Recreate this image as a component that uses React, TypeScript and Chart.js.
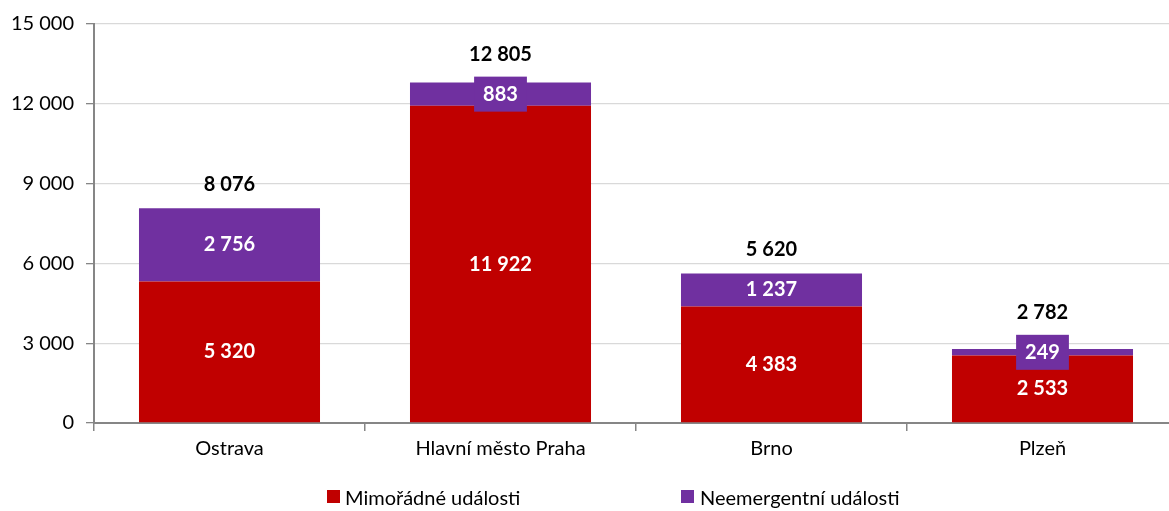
import React, { useEffect, useRef } from "react";
import { Chart, registerables } from "chart.js";

Chart.register(...registerables);

const categories = ["Ostrava", "Hlavní město Praha", "Brno", "Plzeň"];
const mimoradne = [5320, 11922, 4383, 2533];
const neemergentni = [2756, 883, 1237, 249];
const seriesNames = ["Mimořádné události", "Neemergentní události"];
const yMin = 0;
const yMax = 15000;
const yStep = 3000;

const RED = "#C00000";
const PURPLE = "#7030A0";
const FONT = "Lato, 'Open Sans', sans-serif";

const fmt = (n: number) => String(n).replace(/\B(?=(\d{3})+(?!\d))/g, " ");

const labelPlugin = {
  id: "barLabels",
  afterDatasetsDraw(chart: any) {
    const ctx = chart.ctx;
    const m0 = chart.getDatasetMeta(0);
    const m1 = chart.getDatasetMeta(1);
    ctx.save();
    ctx.font = `bold 20px ${FONT}`;
    ctx.textAlign = "center";
    ctx.textBaseline = "middle";
    for (let i = 0; i < categories.length; i++) {
      const b0 = m0.data[i];
      const b1 = m1.data[i];
      ctx.fillStyle = "#ffffff";
      ctx.fillText(fmt(mimoradne[i]), b0.x, (b0.y + b0.base) / 2);
      const h = Math.abs(b1.base - b1.y);
      const cy = (b1.y + b1.base) / 2;
      const txt = fmt(neemergentni[i]);
      const total = fmt(mimoradne[i] + neemergentni[i]);
      if (h < 30) {
        const w = ctx.measureText(txt).width + 18;
        const bh = 35;
        const boxTop = cy - bh / 2;
        ctx.fillStyle = PURPLE;
        ctx.fillRect(b1.x - w / 2, boxTop, w, bh);
        ctx.fillStyle = "#ffffff";
        ctx.fillText(txt, b1.x, cy);
        ctx.fillStyle = "#000000";
        ctx.fillText(total, b1.x, Math.min(b1.y, boxTop) - 22);
      } else {
        ctx.fillStyle = "#ffffff";
        ctx.fillText(txt, b1.x, cy);
        ctx.fillStyle = "#000000";
        ctx.fillText(total, b1.x, b1.y - 24);
      }
    }
    ctx.restore();
  },
};

export default function App() {
  const ref = useRef<HTMLCanvasElement | null>(null);
  useEffect(() => {
    if (!ref.current) return;
    const chart = new Chart(ref.current, {
      type: "bar",
      data: {
        labels: categories,
        datasets: [
          { label: seriesNames[0], data: mimoradne, backgroundColor: RED, borderWidth: 0 },
          { label: seriesNames[1], data: neemergentni, backgroundColor: PURPLE, borderWidth: 0 },
        ],
      },
      options: {
        responsive: false,
        animation: false,
        devicePixelRatio: 1,
        layout: { padding: { top: 24, right: 2, left: 0, bottom: 0 } },
        plugins: { legend: { display: false }, tooltip: { enabled: false } },
        datasets: { bar: { categoryPercentage: 1, barPercentage: 0.668 } },
        scales: {
          x: {
            stacked: true,
            grid: {
              offset: true,
              drawOnChartArea: false,
              tickLength: 8,
              color: "#868686",
              lineWidth: 1.5,
            },
            border: { display: true, color: "#868686", width: 2 },
            ticks: { color: "#000", font: { family: FONT, size: 20 }, padding: 6 },
            afterFit: (s: any) => {
              s.height = 88;
            },
          },
          y: {
            stacked: true,
            min: yMin,
            max: yMax,
            grid: { color: "#d9d9d9", tickLength: 8, tickColor: "#868686", lineWidth: 1.3 },
            border: { display: true, color: "#868686", width: 2 },
            ticks: {
              stepSize: yStep,
              color: "#000",
              font: { family: FONT, size: 20 },
              padding: 12,
              callback: (v: any) => fmt(Number(v)),
            },
            afterFit: (s: any) => {
              s.width = 94;
            },
          },
        },
      },
      plugins: [labelPlugin],
    } as any);
    return () => chart.destroy();
  }, []);

  const legendText: React.CSSProperties = {
    position: "absolute",
    top: 486,
    fontFamily: FONT,
    fontSize: 20,
    lineHeight: "22px",
    color: "#000",
    whiteSpace: "nowrap",
  };
  const box = (left: number, color: string): React.CSSProperties => ({
    position: "absolute",
    left,
    top: 490,
    width: 13,
    height: 13,
    background: color,
  });

  return (
    <div
      style={{
        position: "fixed",
        left: 0,
        top: 0,
        width: 1169,
        height: 511,
        overflow: "hidden",
        background: "#fff",
      }}
    >
      <canvas ref={ref} width={1180} height={511} style={{ position: "absolute", left: 0, top: 0 }} />
      <div style={box(327, RED)} />
      <div style={{ ...legendText, left: 345 }}>{seriesNames[0]}</div>
      <div style={box(681, PURPLE)} />
      <div style={{ ...legendText, left: 700 }}>{seriesNames[1]}</div>
    </div>
  );
}
